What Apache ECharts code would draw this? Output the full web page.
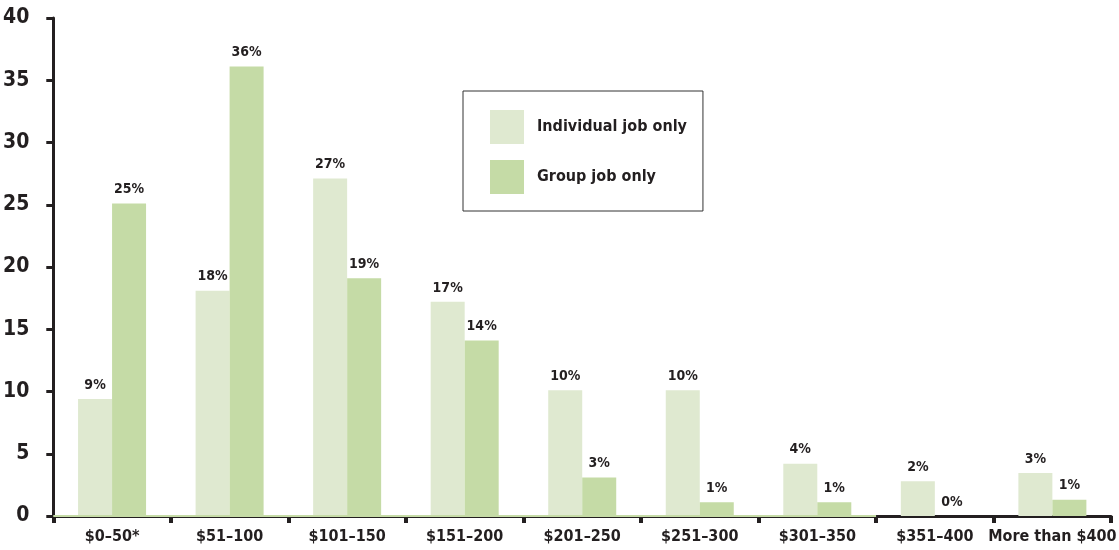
<!DOCTYPE html>
<html>
<head>
<meta charset="utf-8">
<script src="https://cdn.jsdelivr.net/npm/echarts@6/dist/echarts.min.js"></script>
<style>
html,body{margin:0;padding:0;background:#fff;}
#main{width:1119px;height:550px;}
</style>
</head>
<body>
<div id="main"></div>
<script>
const categories = ['$0–50*', '$51–100', '$101–150', '$151–200', '$201–250', '$251–300', '$301–350', '$351–400', 'More than $400'];
const individualValues = [9.4, 18.1, 27.1, 17.2, 10.1, 10.1, 4.2, 2.8, 3.45];
const groupValues = [25.1, 36.1, 19.1, 14.1, 3.1, 1.1, 1.1, 0, 1.3];
const individualLabels = ['9%', '18%', '27%', '17%', '10%', '10%', '4%', '2%', '3%'];
const groupLabels = ['25%', '36%', '19%', '14%', '3%', '1%', '1%', '0%', '1%'];
const baseLine = [[0, 0], [7, 0]];

const FONT = '"Liberation Sans Narrow", "DejaVu Sans Condensed", "Roboto Condensed", sans-serif';
const TXT = '#231f20';

const chart = echarts.init(document.getElementById('main'));
chart.setOption({
  animation: false,
  textStyle: { fontFamily: FONT },
  grid: { left: 52, right: 0, top: 18, bottom: 34, containLabel: false },
  legend: {
    orient: 'vertical',
    left: 463, top: 91,
    padding: [19, 16, 17, 27],
    borderColor: '#333', borderWidth: 1,
    itemWidth: 34, itemHeight: 34, itemGap: 16,
    icon: 'rect',
    textStyle: { fontFamily: FONT, fontWeight: 'bold', fontSize: 16, color: TXT, padding: [0, 0, 0, 8] },
    data: ['Individual job only', 'Group job only']
  },
  xAxis: [{
    type: 'category',
    data: categories,
    axisLine: { lineStyle: { color: '#231f20', width: 3 } },
    axisTick: { show: true, length: 7, lineStyle: { width: 4, color: '#231f20' } },
    axisLabel: { fontFamily: FONT, fontWeight: 'bold', fontSize: 16, color: TXT, margin: 13, interval: 0 }
  }, {
    type: 'value', min: 0, max: 9, show: false
  }],
  yAxis: {
    type: 'value', min: 0, max: 40, interval: 5,
    splitLine: { show: false },
    axisLine: { show: true, lineStyle: { color: '#231f20', width: 3 } },
    axisTick: { show: true, length: 7, lineStyle: { width: 3, color: '#231f20' } },
    axisLabel: { fontFamily: FONT, fontWeight: 'bold', fontSize: 21, color: TXT, margin: 24 }
  },
  series: [{
    name: 'Individual job only',
    type: 'bar',
    data: individualValues,
    barWidth: 34,
    barGap: '0%',
    itemStyle: { color: '#dfe9d0' },
    label: { show: true, position: 'top', distance: 7, fontFamily: FONT, fontWeight: 'bold', fontSize: 14, color: TXT,
      formatter: p => individualLabels[p.dataIndex] }
  }, {
    name: 'Group job only',
    type: 'bar',
    data: groupValues,
    barWidth: 34,
    barGap: '0%',
    itemStyle: { color: '#c5dba6' },
    label: { show: true, position: 'top', distance: 7, fontFamily: FONT, fontWeight: 'bold', fontSize: 14, color: TXT,
      formatter: p => groupLabels[p.dataIndex] }
  }, {
    type: 'line',
    xAxisIndex: 1,
    data: baseLine,
    symbol: 'none',
    silent: true,
    z: 5,
    lineStyle: { color: '#c5dba6', width: 2 }
  }]
});
</script>
</body>
</html>
